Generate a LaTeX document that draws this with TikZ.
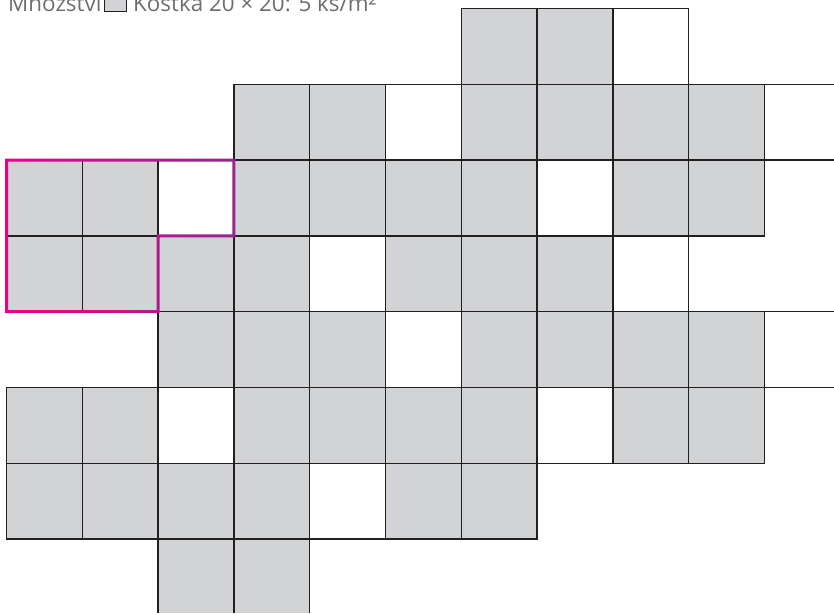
\documentclass[tikz,border=0pt]{standalone}
\usepackage{fontspec}
\setmainfont{Open Sans}
\definecolor{cellgray}{HTML}{D1D3D4}
\definecolor{gridline}{HTML}{231F20}
\definecolor{txtgray}{HTML}{6D6E71}
\definecolor{pinkA}{HTML}{EC008C}
\definecolor{pinkB}{HTML}{92278F}
\begin{document}
\begin{tikzpicture}[x=1pt,y=-1pt,
  cellline/.style={draw=gridline, line width=1.3pt},
  graycell/.style={cellline, fill=cellgray},
  whitecell/.style={cellline, fill=white},
  label/.style={anchor=base west, text=txtgray, inner sep=0pt, font=\fontsize{22.4}{26}\selectfont}]
\useasboundingbox (0,0) rectangle (834,613);
\def\s{75.8}\def\ox{6.5}\def\oy{8.5}
% gray cells
\foreach \c/\r in {6/0,7/0, 3/1,4/1,6/1,7/1,8/1,9/1,
  0/2,1/2,3/2,4/2,5/2,6/2,8/2,9/2,
  0/3,1/3,2/3,3/3,5/3,6/3,7/3,
  2/4,3/4,4/4,6/4,7/4,8/4,9/4,
  0/5,1/5,3/5,4/5,5/5,6/5,8/5,9/5,
  0/6,1/6,2/6,3/6,5/6,6/6}
  \filldraw[graycell] ({\ox+\c*\s},{\oy+\r*\s}) rectangle ++(\s,\s);
% white cells
\foreach \c/\r in {8/0, 5/1, 2/2,7/2, 4/3,8/3, 5/4, 2/5,7/5, 4/6}
  \filldraw[whitecell] ({\ox+\c*\s},{\oy+\r*\s}) rectangle ++(\s,\s);
% bottom row, open at the bottom
\fill[cellgray] ({\ox+2*\s},{\oy+7*\s}) rectangle ({\ox+4*\s},613);
\foreach \c in {2,3,4}
  \draw[cellline] ({\ox+\c*\s},{\oy+7*\s}) -- ({\ox+\c*\s},613);
\draw[cellline] ({\ox+2*\s},{\oy+7*\s}) -- ({\ox+4*\s},{\oy+7*\s});
% open lines on the right
\foreach \r in {1,2,4,5}
  \draw[cellline] ({\ox+10*\s},{\oy+\r*\s}) -- (834,{\oy+\r*\s});
% pink outline with gradient
\def\d{1.5}
\shade[left color=pinkA, right color=pinkB, even odd rule]
  ({\ox-\d},{\oy+2*\s-\d}) -- ({\ox+3*\s+\d},{\oy+2*\s-\d}) -- ({\ox+3*\s+\d},{\oy+3*\s+\d})
  -- ({\ox+2*\s+\d},{\oy+3*\s+\d}) -- ({\ox+2*\s+\d},{\oy+4*\s+\d}) -- ({\ox-\d},{\oy+4*\s+\d}) -- cycle
  ({\ox+\d},{\oy+2*\s+\d}) -- ({\ox+3*\s-\d},{\oy+2*\s+\d}) -- ({\ox+3*\s-\d},{\oy+3*\s-\d})
  -- ({\ox+2*\s-\d},{\oy+3*\s-\d}) -- ({\ox+2*\s-\d},{\oy+4*\s-\d}) -- ({\ox+\d},{\oy+4*\s-\d}) -- cycle;
% header text
\node[label] (lbl1) at (8,11) {Množství};
\node[draw=gridline, fill=cellgray, line width=0.8pt, minimum width=22pt, minimum height=22pt,
  inner sep=0pt, anchor=south west] (legend) at (104,11.5) {};
\node[label] (lbl2) at (133,11) {Kostka 20 × 20: 5 ks/m²};
\end{tikzpicture}
\end{document}
